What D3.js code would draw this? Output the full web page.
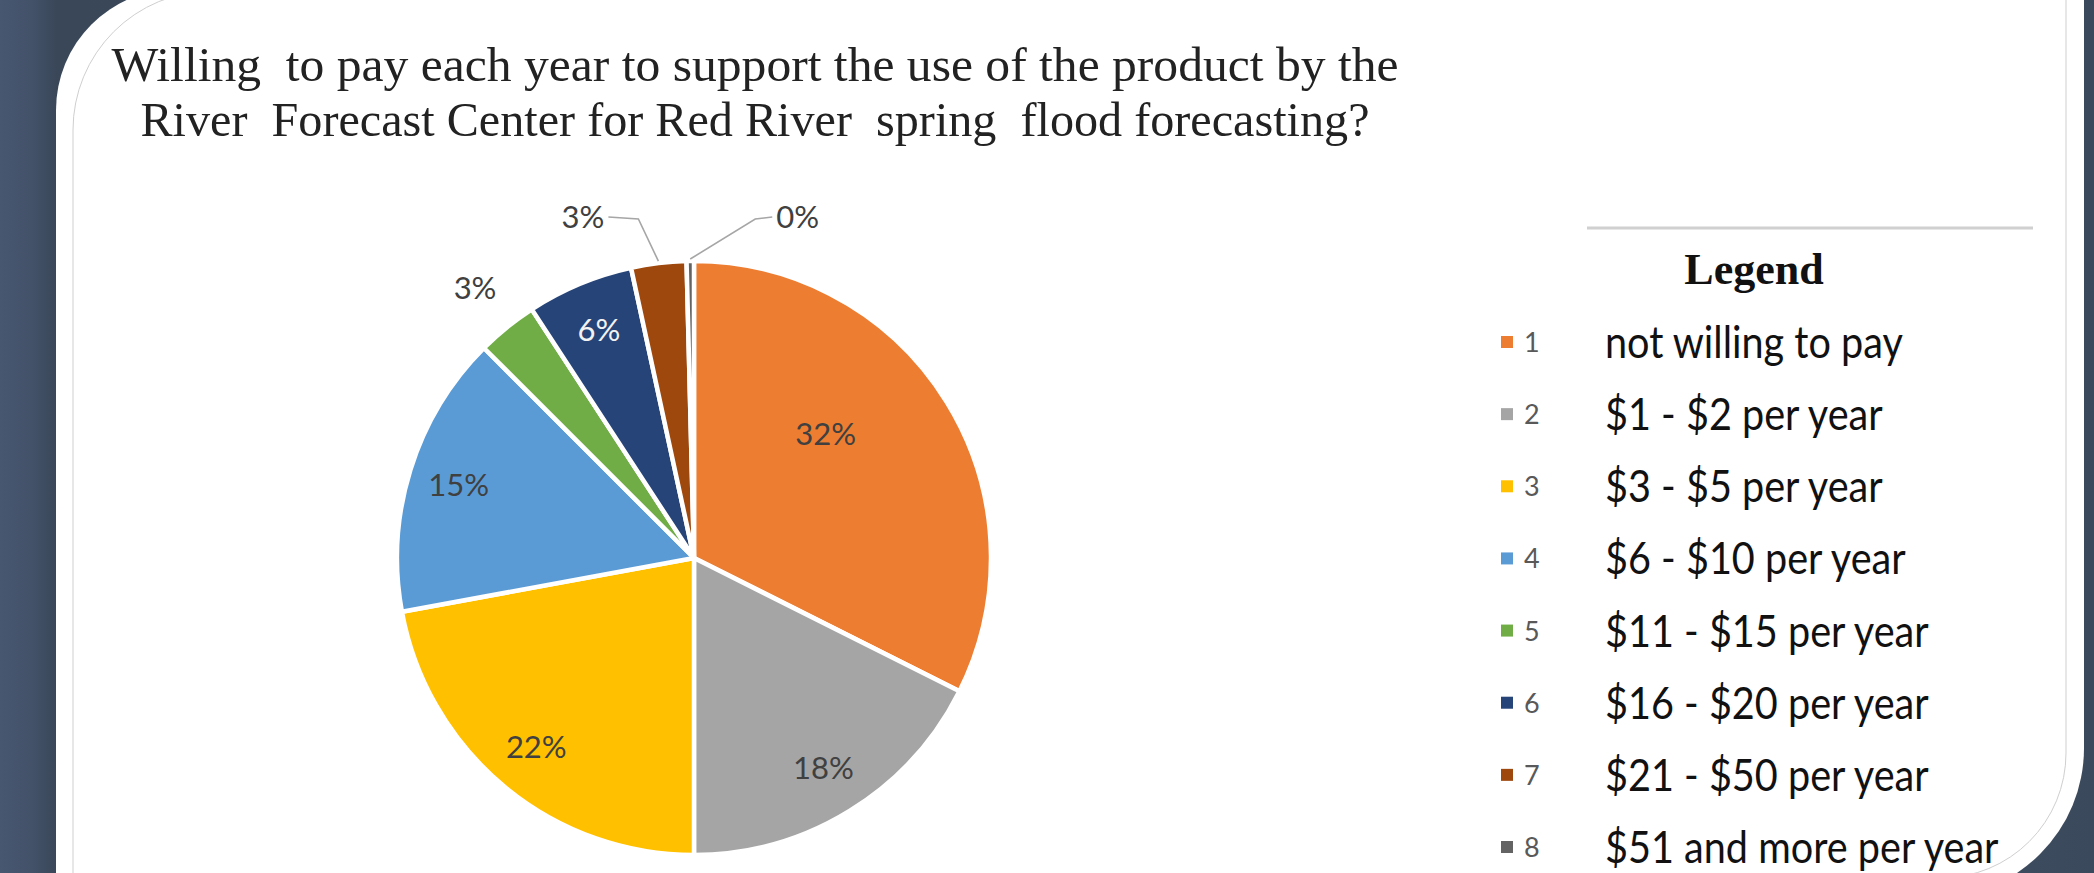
<!DOCTYPE html>
<html>
<head>
<meta charset="utf-8">
<script src="https://cdn.jsdelivr.net/npm/d3@7"></script>
<style>
  body { margin: 0; overflow: hidden; background: #425168; }
  text { white-space: pre; }
</style>
</head>
<body>
<div id="chart"></div>
<script>
// chart data
var titleLines = [
  "Willing  to pay each year to support the use of the product by the",
  "River  Forecast Center for Red River  spring  flood forecasting?"
];
var categories = ["1", "2", "3", "4", "5", "6", "7", "8"];
var categoryNames = ["not willing to pay", "$1 - $2 per year", "$3 - $5 per year", "$6 - $10 per year",
                     "$11 - $15 per year", "$16 - $20 per year", "$21 - $50 per year", "$51 and more per year"];
var shares = [32.4, 17.6, 22.1, 15.4, 3.3, 5.8, 3.0, 0.4];
var sliceColors = ["#ED7D31", "#A5A5A5", "#FFC000", "#5B9BD5", "#70AD47", "#264478", "#9E480E", "#636363"];

var W = 2094, H = 873;

var svg = d3.select("#chart")
  .append("svg")
    .attr("width", W)
    .attr("height", H);

// slate background with a bit of shading
var defs = svg.append("defs");
var bg = defs.append("linearGradient").attr("id", "bg").attr("x1", "0").attr("x2", "1").attr("y1", "0").attr("y2", "0");
bg.append("stop").attr("offset", "0").attr("stop-color", "#475770");
bg.append("stop").attr("offset", "0.015").attr("stop-color", "#435269");
bg.append("stop").attr("offset", "0.027").attr("stop-color", "#3a4759");
bg.append("stop").attr("offset", "0.97").attr("stop-color", "#3d4b5f");
bg.append("stop").attr("offset", "1").attr("stop-color", "#3b495c");
svg.append("rect").attr("width", W).attr("height", H).attr("fill", "url(#bg)");

// white card with rounded diagonal corners
function cardPath(l, t, r, b, r1, r2) {
  return "M" + l + "," + b +
    " L" + l + "," + (t + r1) +
    " A" + r1 + "," + r1 + " 0 0 1 " + (l + r1) + "," + t +
    " L" + r + "," + t +
    " L" + r + "," + (b - r2) +
    " A" + r2 + "," + r2 + " 0 0 1 " + (r - r2) + "," + b + " Z";
}
svg.append("path").attr("d", cardPath(56, -11, 2084, 898, 121, 150)).attr("fill", "#ffffff");
svg.append("path").attr("d", cardPath(73, -9, 2066, 878, 139, 125))
  .attr("fill", "none").attr("stroke", "#cfcfcf").attr("stroke-width", 1);

// title
var titleWidths = [1287, 1229];
svg.append("g").selectAll("text")
  .data(titleLines)
  .enter().append("text")
    .attr("x", 755)
    .attr("y", function(d, i) { return 81 + i * 55; })
    .attr("text-anchor", "middle")
    .attr("textLength", function(d, i) { return titleWidths[i]; })
    .attr("lengthAdjust", "spacingAndGlyphs")
    .style("font-family", "'Liberation Serif', 'Times New Roman', serif")
    .style("font-size", "48px")
    .style("fill", "#222")
    .text(function(d) { return d; });

// pie
var cx = 694, cy = 558, R = 297;
var total = d3.sum(shares);
var pct = d3.format(".0%");
var color = d3.scaleOrdinal().domain(categories).range(sliceColors);

var pie = d3.pie().sort(null).value(function(d) { return d; });
var arcs = pie(shares);
var arc = d3.arc().innerRadius(0).outerRadius(R);

var g = svg.append("g").attr("transform", "translate(" + cx + "," + cy + ")");

g.selectAll("path.slice")
  .data(arcs)
  .enter().append("path")
    .attr("class", "slice")
    .attr("d", arc)
    .attr("fill", function(d, i) { return color(categories[i]); })
    .attr("stroke", "#ffffff")
    .attr("stroke-width", 4.5)
    .attr("stroke-linejoin", "round");

function polar(a, r) { return [Math.sin(a) * r, -Math.cos(a) * r]; }
var labelFont = "Lato, 'Open Sans', sans-serif";
var last = arcs.length - 1;

arcs.forEach(function(d, i) {
  var share = shares[i] / total;
  var mid = (d.startAngle + d.endAngle) / 2;
  var txt = pct(share);
  var fill = "#404040";
  var t;
  if (share >= 0.05) {
    // inside label, the big slice gets its label pulled in and forward
    var big = share > 0.3;
    var a = big ? d.startAngle + 0.4 * (d.endAngle - d.startAngle) : mid;
    var p = polar(a, R * (big ? 0.61 : 0.83));
    t = g.append("text").attr("x", p[0]).attr("y", p[1]).attr("text-anchor", "middle");
    if (d3.hsl(color(categories[i])).l < 0.35) fill = "#f2f2f2";
  } else if (mid > 2 * Math.PI * 0.95) {
    // callout with leader line near the top
    var side = i === last ? 1 : -1;
    var s = polar(mid, R + 2);
    var elbow = [s[0] + side * (i === last ? 65 : 20), -R - 42];
    var end = [elbow[0] + side * (i === last ? 17 : 30), elbow[1] - 2];
    g.append("polyline")
      .attr("points", [s, elbow, end].map(function(q) { return q.join(","); }).join(" "))
      .attr("fill", "none").attr("stroke", "#a6a6a6").attr("stroke-width", 1.6);
    t = g.append("text").attr("x", end[0] + side * 4).attr("y", end[1])
      .attr("text-anchor", side > 0 ? "start" : "end");
  } else {
    // outside label
    var q = polar(mid, R * 1.17);
    t = g.append("text").attr("x", q[0]).attr("y", q[1]).attr("text-anchor", "middle");
  }
  t.attr("dy", "0.35em")
    .style("font-family", labelFont)
    .style("font-size", "31px")
    .style("fill", fill)
    .text(txt);
});

// legend
svg.append("line")
  .attr("x1", 1587).attr("x2", 2033).attr("y1", 228).attr("y2", 228)
  .attr("stroke", "#d0d0d0").attr("stroke-width", 3);

svg.append("text")
  .attr("x", 1754).attr("y", 284)
  .attr("text-anchor", "middle")
  .style("font-family", "'Liberation Serif', 'Times New Roman', serif")
  .style("font-weight", "bold")
  .style("font-size", "44px")
  .style("fill", "#111")
  .text("Legend");

var rowY = d3.scalePoint().domain(categories).range([342, 847]);

var rows = svg.append("g").selectAll("g")
  .data(categories)
  .enter().append("g")
    .attr("transform", function(d) { return "translate(0," + rowY(d) + ")"; });

rows.append("rect")
  .attr("x", 1501).attr("y", -6).attr("width", 12).attr("height", 12)
  .attr("fill", function(d) { return color(d); });

rows.append("text")
  .attr("x", 1524).attr("y", 10)
  .style("font-family", labelFont)
  .style("font-size", "27px")
  .style("fill", "#595959")
  .text(function(d) { return d; });

// names are set a little taller and narrower, like the original
rows.append("text")
  .attr("x", 1605).attr("y", 16)
  .style("font-family", labelFont)
  .style("font-size", "45px")
  .style("fill", "#111")
  .text(function(d, i) { return categoryNames[i]; })
  .each(function() {
    var w = this.getComputedTextLength();
    d3.select(this).attr("textLength", w * 0.88).attr("lengthAdjust", "spacingAndGlyphs");
  });
</script>
</body>
</html>
